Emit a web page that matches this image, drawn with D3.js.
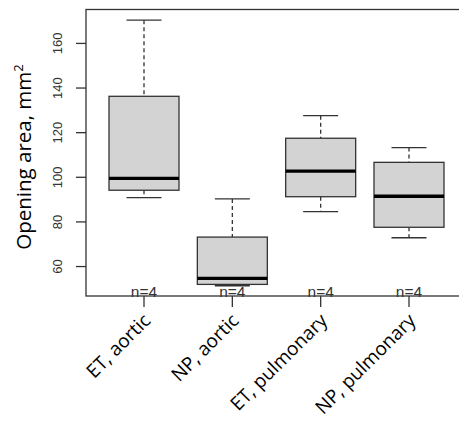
<!DOCTYPE html>
<html><head><meta charset="utf-8">
<script src="https://cdn.jsdelivr.net/npm/d3@7"></script>
<style>body{margin:0;background:#fff;} svg{display:block;}</style>
</head><body>
<svg id="c" width="459" height="430"></svg>
<script>
const categories = ["ET, aortic", "NP, aortic", "ET, pulmonary", "NP, pulmonary"];
const lowerWhisker = [90.9, 51.4, 84.6, 72.9];
const q1 = [94.2, 52.0, 91.3, 77.6];
const median = [99.5, 54.7, 102.8, 91.5];
const q3 = [136.3, 73.2, 117.5, 106.7];
const upperWhisker = [170.4, 90.3, 127.6, 113.3];
const counts = [4, 4, 4, 4];
const yTicks = [60, 80, 100, 120, 140, 160];

const svg = d3.select("#c");
const frame = {left: 86, top: 9.5, bottom: 296, right: 475};
const y = d3.scaleLinear().domain([46.8, 175.2]).range([frame.bottom, frame.top]);
const x = d3.scaleLinear().domain([0, 3]).range([144, 409]);
const boxW = 70, capW = 35;
const ink = "#333";

const data = categories.map((c, i) => ({c, i, lo: lowerWhisker[i], q1: q1[i], med: median[i], q3: q3[i], hi: upperWhisker[i], n: counts[i]}));

const g = svg.append("g");
data.forEach(d => {
  const cx = x(d.i);
  g.append("line").attr("x1", cx).attr("x2", cx).attr("y1", y(d.hi)).attr("y2", y(d.q3))
    .attr("stroke", ink).attr("stroke-width", 1.3).attr("stroke-dasharray", "4,3");
  g.append("line").attr("x1", cx).attr("x2", cx).attr("y1", y(d.q1)).attr("y2", y(d.lo))
    .attr("stroke", ink).attr("stroke-width", 1.3).attr("stroke-dasharray", "4,3");
  [d.hi, d.lo].forEach(v => g.append("line").attr("x1", cx - capW/2).attr("x2", cx + capW/2)
    .attr("y1", y(v)).attr("y2", y(v)).attr("stroke", ink).attr("stroke-width", 1.3));
  g.append("rect").attr("x", cx - boxW/2).attr("y", y(d.q3)).attr("width", boxW)
    .attr("height", y(d.q1) - y(d.q3)).attr("fill", "#d3d3d3").attr("stroke", ink).attr("stroke-width", 1.3);
  g.append("line").attr("x1", cx - boxW/2).attr("x2", cx + boxW/2).attr("y1", y(d.med)).attr("y2", y(d.med))
    .attr("stroke", "#000").attr("stroke-width", 3.3);
  g.append("text").attr("x", cx).attr("y", frame.bottom + 0.5).attr("text-anchor", "middle")
    .attr("font-family", "Liberation Sans, Arial, sans-serif").attr("font-size", 15.5).attr("fill", "#333")
    .text("n=" + d.n);
});

svg.append("rect").attr("x", frame.left).attr("y", frame.top).attr("width", frame.right - frame.left)
  .attr("height", frame.bottom - frame.top).attr("fill", "none").attr("stroke", ink).attr("stroke-width", 1.3);

const ya = svg.append("g");
yTicks.forEach(t => {
  ya.append("line").attr("x1", 76).attr("x2", frame.left).attr("y1", y(t)).attr("y2", y(t)).attr("stroke", ink).attr("stroke-width", 1.3);
  ya.append("text").attr("transform", `translate(62,${y(t)}) rotate(-90)`).attr("text-anchor", "middle")
    .attr("font-family", "Liberation Sans, Arial, sans-serif").attr("font-size", 13).attr("fill", "#333").text(t);
});
svg.append("text").attr("transform", `translate(31,157) rotate(-90)`).attr("text-anchor", "middle")
  .attr("font-family", "Open Sans, Liberation Sans, sans-serif").attr("font-size", 20.5).attr("fill", "#000")
  .html("Opening area, mm<tspan dy='-8' font-size='13'>2</tspan>");

data.forEach(d => {
  const cx = x(d.i);
  svg.append("line").attr("x1", cx).attr("x2", cx).attr("y1", frame.bottom).attr("y2", 307).attr("stroke", ink).attr("stroke-width", 1.3);
  svg.append("text").attr("transform", `translate(${cx + 3},${317}) rotate(-45)`).attr("text-anchor", "end")
    .attr("dy", "0.35em")
    .attr("font-family", "Open Sans, Liberation Sans, sans-serif").attr("font-size", 19).attr("fill", "#000")
    .text(d.c);
});
</script>
</body></html>
